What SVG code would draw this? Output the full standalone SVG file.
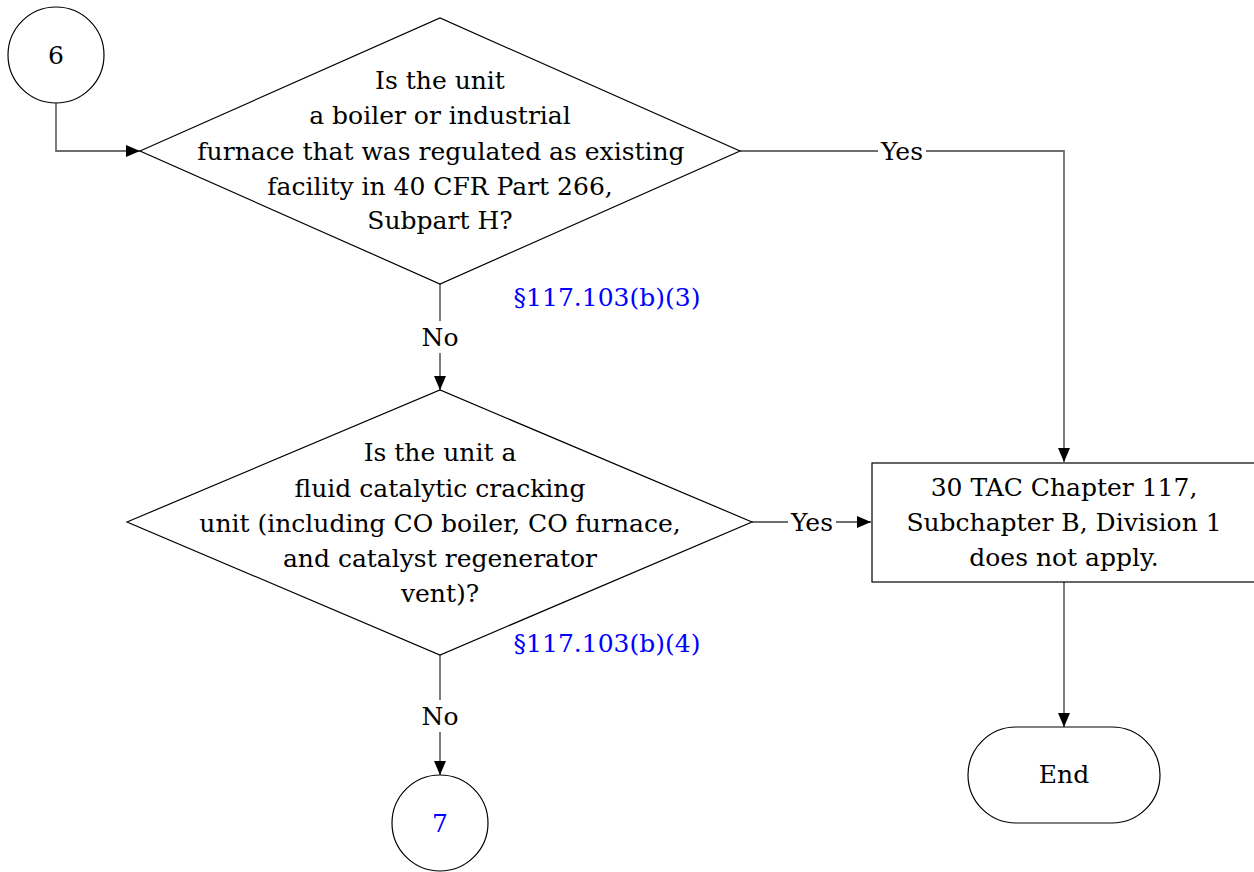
<svg xmlns="http://www.w3.org/2000/svg" width="1254" height="872" viewBox="0 0 1254 872">
<style>
.shape{fill:#fff;stroke:#000;stroke-width:1.2}
.conn{fill:none;stroke:#6e6e6e;stroke-width:1.8}
.t{font-family:"DejaVu Serif","Liberation Serif",serif;font-size:25px;fill:#000;text-anchor:middle}
.ref{fill:#0000ff}
.lbl{fill:#fff;stroke:none}
</style>
<defs>
<marker id="arr" markerUnits="userSpaceOnUse" markerWidth="14" markerHeight="12" refX="14" refY="6" orient="auto">
<path d="M0,0 L14,6 L0,12 Z" fill="#000"/>
</marker>
</defs>
<g id="connectors">
<path class="conn" d="M56,103 V151 H140" marker-end="url(#arr)"/>
<path class="conn" d="M740,151 H1064 V462" marker-end="url(#arr)"/>
<rect class="lbl" x="878" y="137" width="48" height="28"/>
<text class="t" x="902" y="160">Yes</text>
<path class="conn" d="M440,284 V390" marker-end="url(#arr)"/>
<rect class="lbl" x="418" y="321" width="44" height="32"/>
<text class="t" x="440" y="346">No</text>
<path class="conn" d="M752,522 H871" marker-end="url(#arr)"/>
<rect class="lbl" x="788" y="508" width="48" height="28"/>
<text class="t" x="812" y="531">Yes</text>
<path class="conn" d="M440,655 V775" marker-end="url(#arr)"/>
<rect class="lbl" x="418" y="700" width="44" height="32"/>
<text class="t" x="440" y="725">No</text>
<path class="conn" d="M1064,582 V727" marker-end="url(#arr)"/>
</g>
<g id="node-6">
<circle class="shape" cx="56" cy="55" r="48"/>
<text class="t" x="56" y="64">6</text>
</g>
<g id="decision-1">
<polygon class="shape" points="140,151 440,18 740,151 440,284"/>
<text class="t" x="440" y="89">Is the unit</text>
<text class="t" x="440" y="124">a boiler or industrial</text>
<text class="t" x="441" y="160">furnace that was regulated as existing</text>
<text class="t" x="440" y="195">facility in 40 CFR Part 266,</text>
<text class="t" x="440" y="229">Subpart H?</text>
<text class="t ref" x="607" y="306">§117.103(b)(3)</text>
</g>
<g id="decision-2">
<polygon class="shape" points="127,522 440,390 752,522 440,655"/>
<text class="t" x="440" y="461">Is the unit a</text>
<text class="t" x="440" y="497">fluid catalytic cracking</text>
<text class="t" x="440" y="532">unit (including CO boiler, CO furnace,</text>
<text class="t" x="440" y="567">and catalyst regenerator</text>
<text class="t" x="440" y="602">vent)?</text>
<text class="t ref" x="607" y="652">§117.103(b)(4)</text>
</g>
<g id="result">
<rect class="shape" x="872" y="463" width="384" height="119"/>
<text class="t" x="1064" y="496">30 TAC Chapter 117,</text>
<text class="t" x="1064" y="531">Subchapter B, Division 1</text>
<text class="t" x="1064" y="566">does not apply.</text>
</g>
<g id="end">
<rect class="shape" x="968" y="727" width="192" height="96" rx="48" ry="48"/>
<text class="t" x="1064" y="783">End</text>
</g>
<g id="node-7">
<circle class="shape" cx="440" cy="823" r="48"/>
<text class="t ref" x="440" y="832">7</text>
</g>
</svg>
